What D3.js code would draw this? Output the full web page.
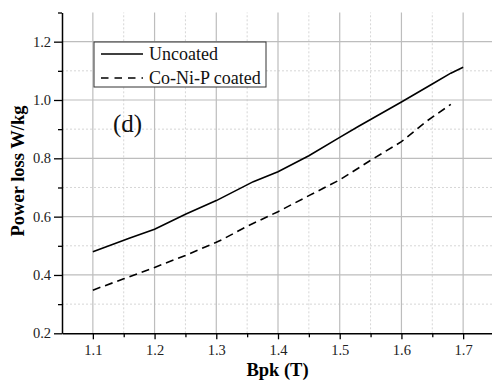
<!DOCTYPE html>
<html>
<head>
<meta charset="utf-8">
<script src="https://cdn.jsdelivr.net/npm/d3@7"></script>
<style>
  body { margin: 0; background: #fff; }
  svg { display: block; }
</style>
</head>
<body>
<div id="chart"></div>
<script>
// values
const bpkUncoated = [1.1, 1.16, 1.2, 1.25, 1.3, 1.36, 1.4, 1.45, 1.5, 1.53, 1.6, 1.65, 1.68, 1.7];
const lossUncoated = [0.48, 0.527, 0.557, 0.608, 0.655, 0.72, 0.754, 0.809, 0.872, 0.909, 0.993, 1.055, 1.092, 1.112];
const bpkCoated = [1.1, 1.15, 1.2, 1.25, 1.3, 1.31, 1.35, 1.4, 1.45, 1.5, 1.55, 1.6, 1.64, 1.68];
const lossCoated = [0.348, 0.387, 0.426, 0.467, 0.512, 0.522, 0.567, 0.617, 0.672, 0.726, 0.793, 0.857, 0.926, 0.985];

const xMajor = [1.1, 1.2, 1.3, 1.4, 1.5, 1.6, 1.7];
const xMinor = [1.15, 1.25, 1.35, 1.45, 1.55, 1.65];
const yMajor = [0.2, 0.4, 0.6, 0.8, 1.0, 1.2];
const yMinor = [0.3, 0.5, 0.7, 0.9, 1.1, 1.3];

const seriesNames = ["Uncoated", "Co-Ni-P coated"];

const W = 492, H = 385;
const font = "'Liberation Serif', 'Times New Roman', serif";

const svg = d3.select("#chart").append("svg")
    .attr("width", W)
    .attr("height", H);

const x = d3.scaleLinear().domain([1.05, 1.75]).range([62, 494]);
const y = d3.scaleLinear().domain([0.2, 1.3]).range([333.3, 12.5]);

// grid, minor dotted first
const grid = svg.append("g");
grid.selectAll(".vminor").data(xMinor).enter().append("line")
    .attr("x1", d => x(d)).attr("x2", d => x(d))
    .attr("y1", y(0.2)).attr("y2", y(1.3))
    .attr("stroke", "#d6d6d6").attr("stroke-dasharray", "2,2");
grid.selectAll(".hminor").data(yMinor.filter(d => d < 1.3)).enter().append("line")
    .attr("x1", x(1.05)).attr("x2", W)
    .attr("y1", d => y(d)).attr("y2", d => y(d))
    .attr("stroke", "#d6d6d6").attr("stroke-dasharray", "2,2");
grid.selectAll(".vmajor").data(xMajor).enter().append("line")
    .attr("x1", d => x(d)).attr("x2", d => x(d))
    .attr("y1", y(0.2)).attr("y2", y(1.3))
    .attr("stroke", "#bdbdbd").attr("stroke-width", 1.2);
grid.selectAll(".hmajor").data(yMajor.filter(d => d > 0.2)).enter().append("line")
    .attr("x1", x(1.05)).attr("x2", W)
    .attr("y1", d => y(d)).attr("y2", d => y(d))
    .attr("stroke", "#bdbdbd").attr("stroke-width", 1.2);

// data lines
const line = d3.line().x(d => x(d[0])).y(d => y(d[1]));

svg.append("path")
    .datum(d3.zip(bpkUncoated, lossUncoated))
    .attr("fill", "none")
    .attr("stroke", "#000")
    .attr("stroke-width", 1.6)
    .attr("d", line);

svg.append("path")
    .datum(d3.zip(bpkCoated, lossCoated))
    .attr("fill", "none")
    .attr("stroke", "#000")
    .attr("stroke-width", 1.6)
    .attr("stroke-dasharray", "8,5")
    .attr("d", line);

// axes
const xAxis = svg.append("g")
    .attr("transform", `translate(0,${y(0.2)})`)
    .call(d3.axisBottom(x).tickValues(xMajor).tickSize(6).tickSizeOuter(0).tickFormat(d3.format(".1f")));
svg.append("g")
    .attr("transform", `translate(0,${y(0.2)})`)
    .call(d3.axisBottom(x).tickValues(xMinor).tickSize(4).tickSizeOuter(0).tickFormat(""))
    .select(".domain").remove();

const yAxis = svg.append("g")
    .attr("transform", `translate(${x(1.05)},0)`)
    .call(d3.axisLeft(y).tickValues(yMajor).tickSize(8).tickSizeOuter(0).tickFormat(d3.format(".1f")));
svg.append("g")
    .attr("transform", `translate(${x(1.05)},0)`)
    .call(d3.axisLeft(y).tickValues(yMinor).tickSize(4).tickSizeOuter(0).tickFormat(""))
    .select(".domain").remove();

svg.selectAll(".domain").attr("stroke", "#000").attr("stroke-width", 1.5);
svg.selectAll(".tick line").attr("stroke", "#000").attr("stroke-width", 1.3);
xAxis.selectAll(".tick text")
    .attr("font-family", font).attr("font-size", 14.5).attr("fill", "#222")
    .attr("dy", null).attr("y", 22);
yAxis.selectAll(".tick text")
    .attr("font-family", font).attr("font-size", 14.5).attr("fill", "#222")
    .attr("x", -11);

// axis titles
svg.append("text")
    .attr("x", 277.5).attr("y", 376)
    .attr("text-anchor", "middle")
    .attr("font-family", font).attr("font-weight", "bold").attr("font-size", 18.5)
    .text("Bpk (T)");

svg.append("text")
    .attr("transform", "translate(24,171) rotate(-90)")
    .attr("text-anchor", "middle")
    .attr("font-family", font).attr("font-weight", "bold").attr("font-size", 18.5)
    .text("Power loss W/kg");

// legend
const legend = svg.append("g");
legend.append("rect")
    .attr("x", 94).attr("y", 42)
    .attr("width", 172).attr("height", 45)
    .attr("fill", "#fff").attr("stroke", "#333").attr("stroke-width", 1);

seriesNames.forEach((name, i) => {
    const ly = 54 + i * 24;
    legend.append("line")
        .attr("x1", 101).attr("x2", 143)
        .attr("y1", ly).attr("y2", ly)
        .attr("stroke", "#000").attr("stroke-width", 1.6)
        .attr("stroke-dasharray", i === 1 ? "7.5,6" : null);
    legend.append("text")
        .attr("x", 149).attr("y", ly + 6)
        .attr("font-family", font).attr("font-size", 18)
        .attr("fill", "#111")
        .text(name);
});

// panel label
svg.append("text")
    .attr("x", 113).attr("y", 132)
    .attr("font-family", font).attr("font-size", 25)
    .attr("fill", "#111")
    .text("(d)");
</script>
</body>
</html>
